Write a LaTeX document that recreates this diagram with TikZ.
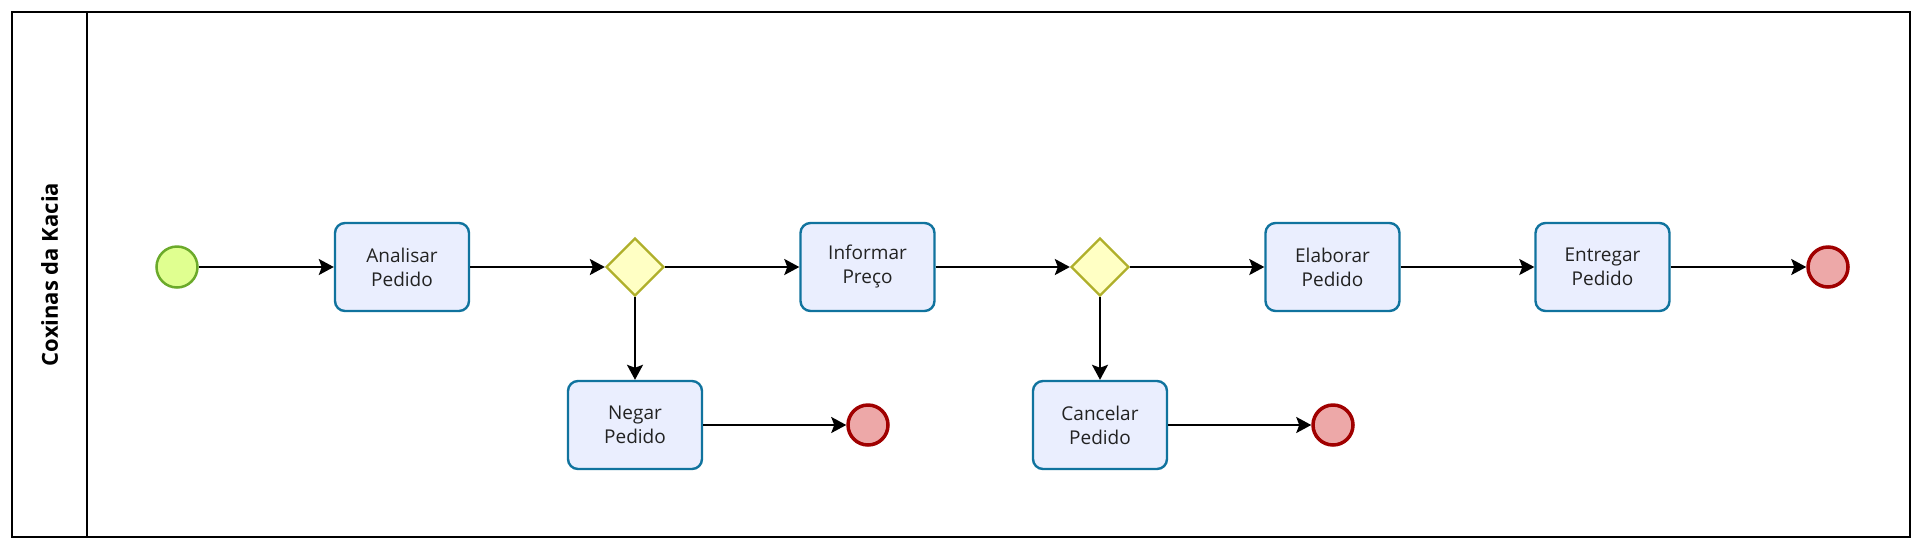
\documentclass[tikz,border=0pt]{standalone}
\usepackage{fontspec}
\setmainfont{Open Sans}
\usetikzlibrary{arrows.meta,shapes.geometric}
\definecolor{taskfill}{HTML}{EAEEFE}
\definecolor{taskdraw}{HTML}{10739E}
\definecolor{gwfill}{HTML}{FFFFC4}
\definecolor{gwdraw}{HTML}{AFAF2A}
\definecolor{startfill}{HTML}{E0FF90}
\definecolor{startdraw}{HTML}{6BAA2A}
\definecolor{endfill}{HTML}{EDA8A8}
\definecolor{enddraw}{HTML}{A00000}
\definecolor{txt}{HTML}{222222}
\begin{document}
\begin{tikzpicture}[x=1pt,y=-1pt,
  task/.style={rectangle, rounded corners=10pt, draw=taskdraw, fill=taskfill,
    line width=2.4pt, minimum width=134pt, minimum height=88pt, align=center,
    font=\fontsize{19}{24}\selectfont, text=txt},
  gateway/.style={diamond, draw=gwdraw, fill=gwfill, line width=2.3pt,
    minimum width=58pt, minimum height=58pt, inner sep=0pt},
  startev/.style={circle, draw=startdraw, fill=startfill, line width=2.5pt,
    minimum size=41pt, inner sep=0pt},
  endev/.style={circle, draw=enddraw, fill=endfill, line width=3.5pt,
    minimum size=40pt, inner sep=0pt},
  flow/.style={-{Stealth[length=15pt,width=16pt,inset=3pt]}, line width=2.2pt},
  lane/.style={line width=2.5pt, draw=black}
]
\useasboundingbox (0,0) rectangle (1921,547);
\fill[white] (0,0) rectangle (1921,547);
\draw[lane] (12,12) rectangle (1910,537);
\draw[lane] (87,12) -- (87,537);
\node[rotate=90, font=\bfseries\fontsize{22}{26}\selectfont, text=black] (lanelabel) at (49.5,274.5) {Coxinas da Kacia};

\node[startev] (start) at (177,267) {};
\node[task] (analisar) at (402,267) {Analisar\\Pedido};
\node[gateway] (g1) at (635,267) {};
\node[task] (informar) at (867.5,267) {Informar\\Preço};
\node[gateway] (g2) at (1100,267) {};
\node[task] (elaborar) at (1332.5,267) {Elaborar\\Pedido};
\node[task] (entregar) at (1602.5,267) {Entregar\\Pedido};
\node[endev] (end) at (1828,267) {};

\node[task] (negar) at (635,425) {Negar\\Pedido};
\node[endev] (endneg) at (868,425) {};
\node[task] (cancelar) at (1100,425) {Cancelar\\Pedido};
\node[endev] (endcan) at (1333,425) {};

\draw[flow] (start) -- (analisar);
\draw[flow] (analisar) -- (g1);
\draw[flow] (g1) -- (informar);
\draw[flow] (informar) -- (g2);
\draw[flow] (g2) -- (elaborar);
\draw[flow] (elaborar) -- (entregar);
\draw[flow] (entregar) -- (end);
\draw[flow] (g1) -- (negar);
\draw[flow] (negar) -- (endneg);
\draw[flow] (g2) -- (cancelar);
\draw[flow] (cancelar) -- (endcan);
\end{tikzpicture}
\end{document}
